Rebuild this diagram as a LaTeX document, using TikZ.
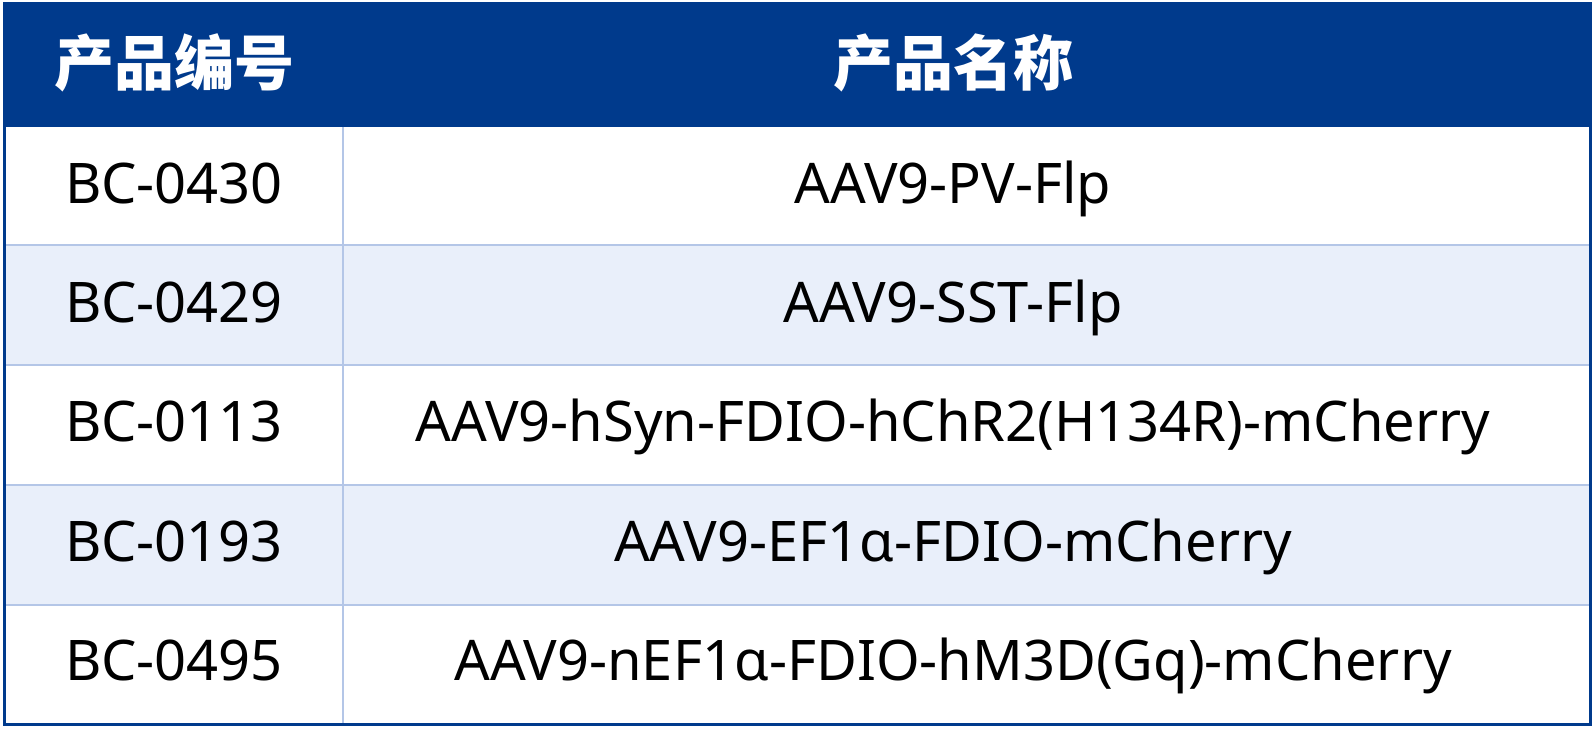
\documentclass[tikz,border=0pt]{standalone}
\usepackage{fontspec}
\setmainfont{Noto Sans}
\newfontfamily\cjk{Noto Sans CJK SC}
\definecolor{headblue}{HTML}{003A8C}
\definecolor{rowblue}{HTML}{E9EFFA}
\definecolor{gridblue}{HTML}{B4C6E7}
\tikzset{
  headtext/.style={text=white, font=\cjk\bfseries\fontsize{60}{64}\selectfont},
  celltext/.style={anchor=base, text=black, font=\fontsize{56}{60}\selectfont, inner sep=0pt}
}

\begin{document}
\begin{tikzpicture}[x=1pt, y=-1pt]
\useasboundingbox (0, 0) rectangle (1594, 730);
    \fill[headblue] (4, 4) rectangle (1591, 127);
    \fill[rowblue] (5, 245) rectangle (1590, 365);
    \fill[rowblue] (5, 485) rectangle (1590, 605);

    \draw[gridblue, line width=1.5pt] (5, 245) -- (1590, 245);
    \draw[gridblue, line width=1.5pt] (5, 365) -- (1590, 365);
    \draw[gridblue, line width=1.5pt] (5, 485) -- (1590, 485);
    \draw[gridblue, line width=1.5pt] (5, 605) -- (1590, 605);
    \draw[gridblue, line width=1.5pt] (343, 127) -- (343, 723);

    \draw[headblue, line width=3pt] (4.5, 4) rectangle (1590.5, 724.5);

    \node[headtext] (headcode) at (174, 63) {产品编号};
    \node[headtext] (headname) at (953, 63) {产品名称};

    \node[celltext] (code1) at (174, 203) {BC-0430};
    \node[celltext] (code2) at (174, 322) {BC-0429};
    \node[celltext] (code3) at (174, 441) {BC-0113};
    \node[celltext] (code4) at (174, 561) {BC-0193};
    \node[celltext] (code5) at (174, 680) {BC-0495};

    \node[celltext] (name1) at (953, 203) {AAV9-PV-Flp};
    \node[celltext] (name2) at (953, 322) {AAV9-SST-Flp};
    \node[celltext] (name3) at (953, 441) {AAV9-hSyn-FDIO-hChR2(H134R)-mCherry};
    \node[celltext] (name4) at (953, 561) {AAV9-EF1α-FDIO-mCherry};
    \node[celltext] (name5) at (953, 680) {AAV9-nEF1α-FDIO-hM3D(Gq)-mCherry};
\end{tikzpicture}
\end{document}
